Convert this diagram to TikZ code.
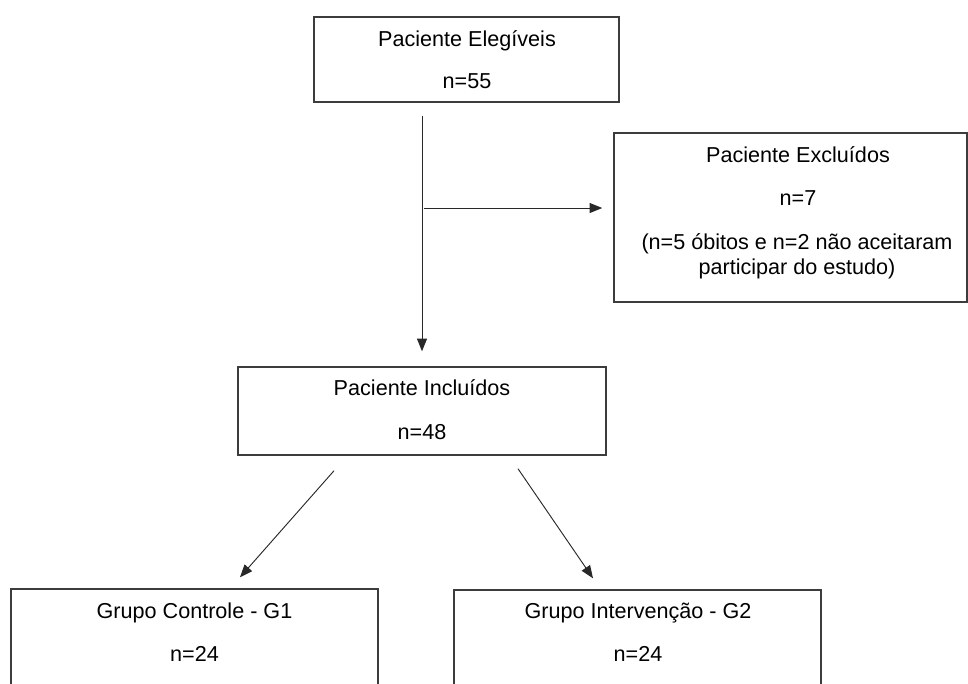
\documentclass[tikz,border=0pt]{standalone}
\usepackage{fontspec}
\setmainfont{Liberation Sans}
\usepackage{tikz}
\usetikzlibrary{arrows.meta,calc,fit}

\definecolor{contorno}{RGB}{60,60,60}
\definecolor{linha}{RGB}{40,40,40}

\tikzset{
	caixa/.style={draw=contorno, line width=1.1pt, inner sep=0pt},
	seta/.style={draw=linha, line width=0.7pt, -{Triangle[length=9.5pt,width=7.5pt]}},
	texto/.style={anchor=base, inner sep=0.75pt, text=black, font=\fontsize{16.2}{19}\selectfont}
}

\begin{document}
\begin{tikzpicture}[x=0.75pt,y=0.75pt,yscale=-1,xscale=1]
			%set diagram left start at 0, and has size of 968 x 683
			\useasboundingbox (0,0) rectangle (968,683);
			\clip (0,0) rectangle (968,683);
			
			%Shape: Rectangle [id:elegiveis] 
			\node [caixa, fit={(314,17) (619,102)}] (elig) {};
			%Shape: Rectangle [id:excluidos] 
			\node [caixa, fit={(614,133) (967,302)}] (excl) {};
			%Shape: Rectangle [id:incluidos] 
			\node [caixa, fit={(238,367) (606,455)}] (incl) {};
			%Shape: Rectangle [id:grupo1] 
			\node [caixa, fit={(11,589) (378,720)}] (gA) {};
			%Shape: Rectangle [id:grupo2] 
			\node [caixa, fit={(454,590) (821,720)}] (gB) {};
			
			% Text Node
			\node [texto] (elig1) at (467,46) {Paciente Elegíveis};
			\node [texto] (elig2) at (467,88) {n=55};
			% Text Node
			\node [texto] (excl1) at (798,162) {Paciente Excluídos};
			\node [texto] (excl2) at (798,205) {n=7};
			\node [texto] (excl3) at (797,249) {(n=5 óbitos e n=2 não aceitaram};
			\node [texto] (excl4) at (797,274) {participar do estudo)};
			% Text Node
			\node [texto] (incl1) at (422,395) {Paciente Incluídos};
			\node [texto] (incl2) at (422,439) {n=48};
			% Text Node
			\node [texto] (gA1) at (194.5,618) {Grupo Controle - G1};
			\node [texto] (gA2) at (194.5,661) {n=24};
			% Text Node
			\node [texto] (gB1) at (638,618) {Grupo Intervenção - G2};
			\node [texto] (gB2) at (638,661) {n=24};
			
			%Straight Lines [id:vertical] 
			\draw [seta, shorten <=9.75pt, shorten >=11.25pt] (elig.south -| incl.north) -- (incl.north) ;
			%Straight Lines [id:desvio] 
			\coordinate (desvio) at (424,208) ;
			\draw [seta, shorten >=8.25pt] (desvio) -- (desvio -| excl.west) ;
			%Straight Lines [id:esquerda] 
			\draw [seta] ($(incl.south)+(-88,15)$) -- ($(gA.north)+(45.5,-11)$) ;
			%Straight Lines [id:direita] 
			\draw [seta] ($(incl.south)+(96,13)$) -- ($(gB.north)+(-44.5,-11)$) ;
		\end{tikzpicture}
\end{document}
